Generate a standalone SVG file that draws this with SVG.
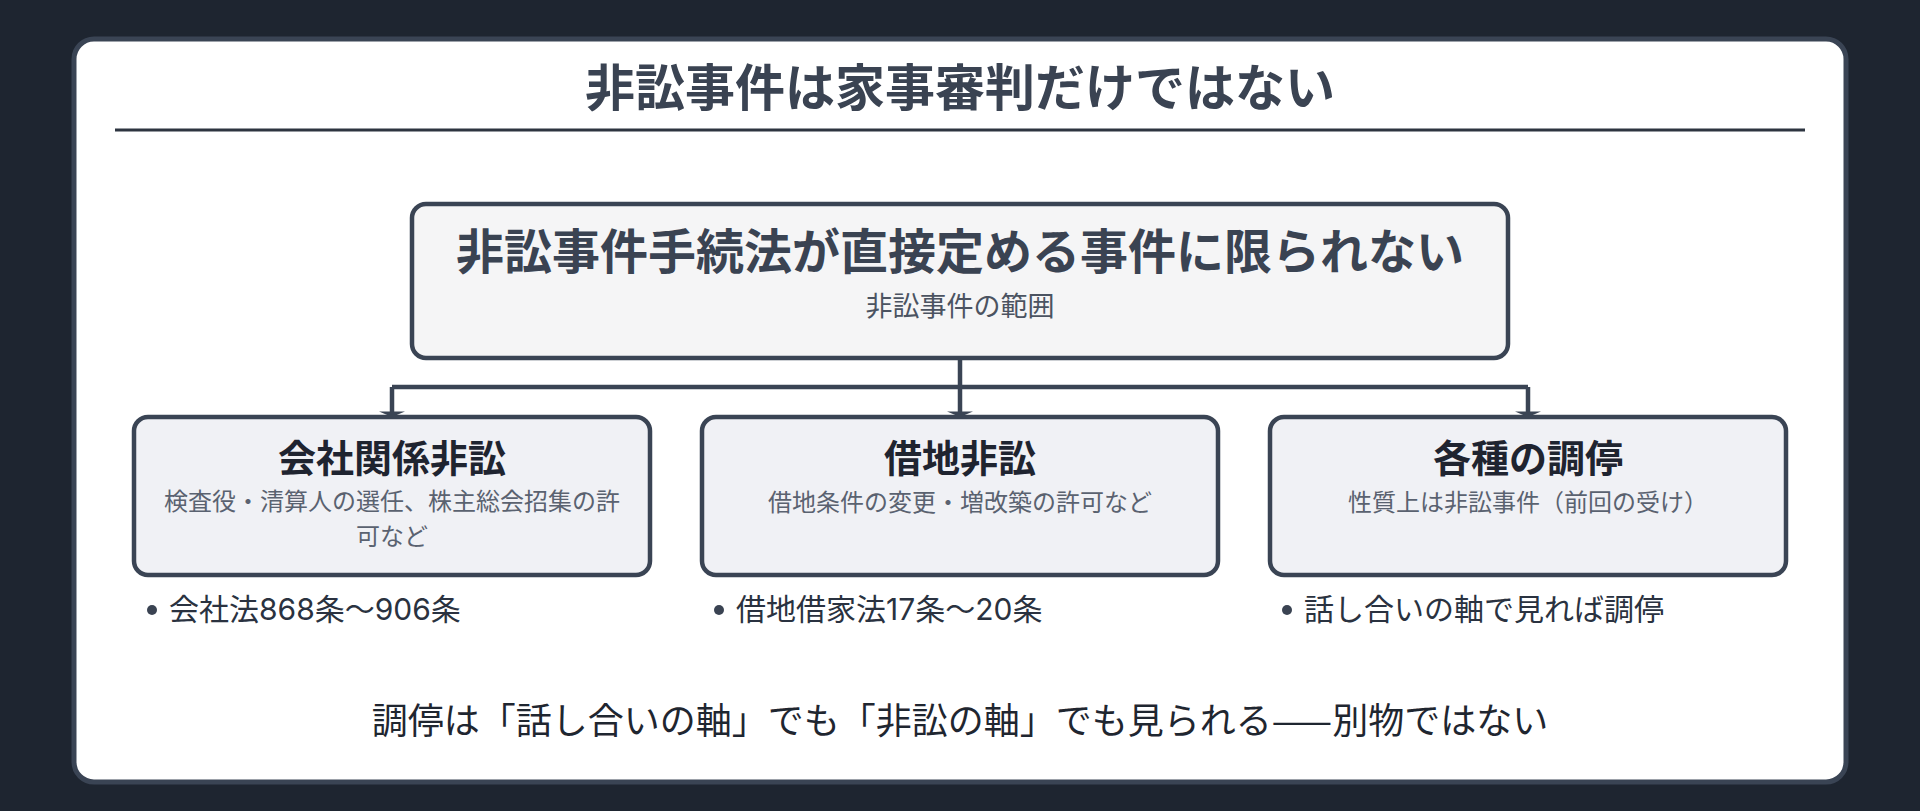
<svg xmlns="http://www.w3.org/2000/svg" width="1920" height="811" viewBox="0 0 1920 811">
<style>
  text { font-family: "Noto Sans CJK JP", "Noto Sans", sans-serif; }
  .title { font-size: 50px; font-weight: 700; fill: #3a4352; text-anchor: middle; }
  .main { font-size: 48px; font-weight: 700; fill: #3a4352; text-anchor: middle; }
  .msub { font-size: 27px; fill: #4b5361; text-anchor: middle; }
  .btitle { font-size: 38px; font-weight: 700; fill: #1f2430; text-anchor: middle; }
  .bsub { font-size: 24px; fill: #5a6270; text-anchor: middle; }
  .bullet { font-size: 30px; fill: #2a3240; font-family: "Inter", "Noto Sans CJK JP", sans-serif; }
  .dot { fill: #3a4352; }
  .foot { font-size: 36px; fill: #1f2630; text-anchor: middle; }
  .topbox { fill: #f5f5f6; stroke: #3a4454; stroke-width: 4.5; }
  .box { fill: #f0f1f5; stroke: #3a4454; stroke-width: 4.5; }
  .conn { fill: none; stroke: #3a4454; stroke-width: 4.5; }
  .arrow { fill: #3a4454; }
</style>
<rect x="0" y="0" width="1920" height="811" fill="#1e2530"/>
<rect x="74" y="39" width="1772" height="743" rx="20" fill="#ffffff" stroke="#3a4454" stroke-width="5"/>
<text class="title" x="960" y="106">非訟事件は家事審判だけではない</text>
<line x1="115" y1="130" x2="1805" y2="130" stroke="#2d3440" stroke-width="3"/>
<g id="connectors">
  <path class="conn" d="M960 358 V387 M392 387 H1528 M392 387 V414 M960 387 V414 M1528 387 V414"/>
  <polygon class="arrow" points="379,411.5 405,411.5 392,417"/>
  <polygon class="arrow" points="947,411.5 973,411.5 960,417"/>
  <polygon class="arrow" points="1515,411.5 1541,411.5 1528,417"/>
</g>
<g id="node-root">
  <rect class="topbox" x="412" y="204" width="1096" height="154" rx="14"/>
  <text class="main" x="960" y="269">非訟事件手続法が直接定める事件に限られない</text>
  <text class="msub" x="960" y="316">非訟事件の範囲</text>
</g>
<g id="node-company">
  <rect class="box" x="134" y="417" width="516" height="158" rx="14"/>
  <text class="btitle" x="392" y="472">会社関係非訟</text>
  <text class="bsub" x="392" y="510">検査役・清算人の選任、株主総会招集の許</text>
  <text class="bsub" x="392" y="545">可など</text>
  <circle class="dot" cx="152" cy="610" r="5"/>
  <text class="bullet" x="169" y="620">会社法868条〜906条</text>
</g>
<g id="node-lease">
  <rect class="box" x="702" y="417" width="516" height="158" rx="14"/>
  <text class="btitle" x="960" y="472">借地非訟</text>
  <text class="bsub" x="960" y="511">借地条件の変更・増改築の許可など</text>
  <circle class="dot" cx="719" cy="610" r="5"/>
  <text class="bullet" x="736" y="620">借地借家法17条〜20条</text>
</g>
<g id="node-mediation">
  <rect class="box" x="1270" y="417" width="516" height="158" rx="14"/>
  <text class="btitle" x="1528" y="472">各種の調停</text>
  <text class="bsub" x="1528" y="511">性質上は非訟事件（前回の受け）</text>
  <circle class="dot" cx="1287" cy="610" r="5"/>
  <text class="bullet" x="1304" y="620">話し合いの軸で見れば調停</text>
</g>
<text class="foot" x="960" y="734">調停は「話し合いの軸」でも「非訟の軸」でも見られる——別物ではない</text>
</svg>
